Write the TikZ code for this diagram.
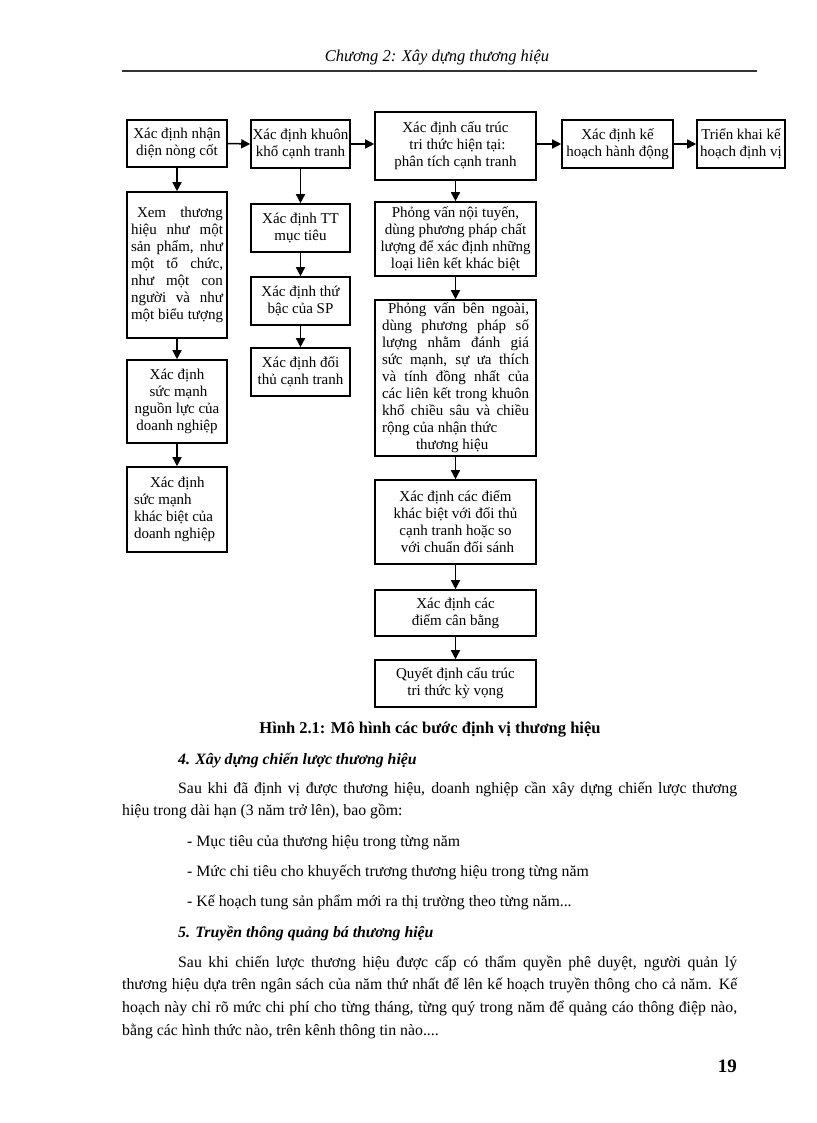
\documentclass[tikz,border=0pt]{standalone}
\usepackage{fontspec}
\setmainfont{Liberation Serif}
\usetikzlibrary{arrows.meta}
\newcommand{\boxfont}{\fontsize{15}{17}\selectfont}
\newcommand{\bodyfont}{\fontsize{15.8}{22}\selectfont}
\newcommand{\jl}[2]{\makebox[#1][s]{\spaceskip=\fontdimen2\font plus 20em\relax #2}}
\begin{document}
\begin{tikzpicture}[x=1pt,y=-1pt,
  bx/.style={draw, line width=1.6pt, inner sep=0pt, align=center, font=\boxfont},
  ar/.style={-{Triangle[length=9pt,width=9pt]}, line width=1.5pt},
  txt/.style={anchor=base west, inner sep=0pt, font=\bodyfont}]
\useasboundingbox (0,0) rectangle (816,1123);
\fill[white] (0,0) rectangle (816,1123);
% header
\node[inner sep=0pt, anchor=base, font=\fontsize{16.5}{20}\selectfont\itshape] (hdr) at (437,62) {Chương 2: Xây dựng thương hiệu};
\coordinate (r1) at (122,71);
\coordinate (r2) at (757,71);
\draw[line width=1.6pt, black!80] (r1) -- (r2);
% top row
\node[bx, minimum width=100pt, minimum height=47pt] (A) at (177,143.5) {Xác định nhận\\diện nòng cốt};
\node[bx, minimum width=99pt, minimum height=48pt] (B) at (300.5,144) {Xác định khuôn\\khổ cạnh tranh};
\node[bx, minimum width=161pt, minimum height=68pt] (I) at (455.5,146) {Xác định cấu trúc\\\hspace*{4pt}tri thức hiện tại:\\phân tích cạnh tranh};
\node[bx, minimum width=111pt, minimum height=48pt] (J) at (617.5,144) {Xác định kế\\hoạch hành động};
\node[bx, minimum width=88pt, minimum height=48pt] (K) at (741,144) {Triển khai kế\\hoạch định vị};
% left column
\node[bx, minimum width=100pt, minimum height=146pt] (C) at (177,265)
 {\parbox{92pt}{\boxfont\jl{92pt}{\hspace*{6pt}Xem thương}\\\jl{92pt}{hiệu như một}\\\jl{92pt}{sản phẩm, như}\\\jl{92pt}{một tổ chức,}\\\jl{92pt}{như một con}\\\jl{92pt}{người và như}\\\jl{92pt}{một biểu tượng}}};
\node[bx, minimum width=100pt, minimum height=83pt] (D) at (177,401.5) {Xác định\\\hspace*{3pt}sức mạnh\\nguồn lực của\\doanh nghiệp};
\node[bx, minimum width=100pt, minimum height=85pt] (E) at (177,509.5) {\parbox{86pt}{\boxfont\raggedright\hspace*{16pt}Xác định\\sức mạnh\\khác biệt của\\doanh nghiệp}};
% second column
\node[bx, minimum width=99pt, minimum height=48pt] (F) at (300.5,228) {Xác định TT\\mục tiêu};
\node[bx, minimum width=99pt, minimum height=48pt] (G) at (300.5,301) {Xác định thứ\\bậc của SP};
\node[bx, minimum width=99pt, minimum height=48pt] (H) at (300.5,372) {Xác định đối\\thủ cạnh tranh};
% third column
\node[bx, minimum width=161pt, minimum height=74pt] (L) at (455.5,239) {Phỏng vấn nội tuyến,\\dùng phương pháp chất\\lượng để xác định những\\loại liên kết khác biệt};
\node[bx, minimum width=161pt, minimum height=156pt] (M) at (455.5,378)
 {\parbox{147pt}{\boxfont\jl{147pt}{\hspace*{6pt}Phỏng vấn bên ngoài,}\\\jl{147pt}{dùng phương pháp số}\\\jl{147pt}{lượng nhằm đánh giá}\\\jl{147pt}{sức mạnh, sự ưa thích}\\\jl{147pt}{và tính đồng nhất của}\\\jl{147pt}{các liên kết trong khuôn}\\\jl{147pt}{khổ chiều sâu và chiều}\\rộng của nhận thức\\\hspace*{34pt}thương hiệu}};
\node[bx, minimum width=161pt, minimum height=84pt] (N) at (455.5,522) {Xác định các điểm\\khác biệt với đối thủ\\cạnh tranh hoặc so\\\hspace*{4pt}với chuẩn đối sánh};
\node[bx, minimum width=161pt, minimum height=46pt] (O) at (455.5,613) {Xác định các\\điểm cân bằng};
\node[bx, minimum width=161pt, minimum height=47pt] (P) at (455.5,683.5) {Quyết định cấu trúc\\tri thức kỳ vọng};
% arrows
\draw[ar] (A.east) -- (B.west);
\draw[ar] (B.east) -- (B.east -| I.west);
\draw[ar] (I.east |- J.west) -- (J.west);
\draw[ar] (J.east) -- (K.west);
\draw[ar] (A.south) -- (C.north);
\draw[ar] (C.south) -- (D.north);
\draw[ar] (D.south) -- (E.north);
\draw[ar] (B.south) -- (F.north);
\draw[ar] (F.south) -- (G.north);
\draw[ar] (G.south) -- (H.north);
\draw[ar] (I.south) -- (L.north);
\draw[ar] (L.south) -- (M.north);
\draw[ar] (M.south) -- (N.north);
\draw[ar] (N.south) -- (O.north);
\draw[ar] (O.south) -- (P.north);
% caption and text
\node[inner sep=0pt, anchor=base, font=\fontsize{16.5}{20}\selectfont\bfseries] (cap) at (430,733) {Hình 2.1: Mô hình các bước định vị thương hiệu};
\node[txt, font=\bodyfont\bfseries\itshape] (h4) at (178,764) {4. Xây dựng chiến lược thương hiệu};
\node[txt] (t1) at (178,793) {\jl{559pt}{Sau khi đã định vị được thương hiệu, doanh nghiệp cần xây dựng chiến lược thương}};
\node[txt] (t2) at (122,815) {hiệu trong dài hạn (3 năm trở lên), bao gồm:};
\node[txt] (t3) at (187,846) {- Mục tiêu của thương hiệu trong từng năm};
\node[txt] (t4) at (187,876) {- Mức chi tiêu cho khuyếch trương thương hiệu trong từng năm};
\node[txt] (t5) at (187,906) {- Kế hoạch tung sản phẩm mới ra thị trường theo từng năm...};
\node[txt, font=\bodyfont\bfseries\itshape] (h5) at (178,937) {5. Truyền thông quảng bá thương hiệu};
\node[txt] (t6) at (178,967) {\jl{559pt}{Sau khi chiến lược thương hiệu được cấp có thẩm quyền phê duyệt, người quản lý}};
\node[txt] (t7) at (122,989) {\jl{615pt}{thương hiệu dựa trên ngân sách của năm thứ nhất để lên kế hoạch truyền thông cho cả năm. Kế}};
\node[txt] (t8) at (122,1012) {\jl{615pt}{hoạch này chỉ rõ mức chi phí cho từng tháng, từng quý trong năm để quảng cáo thông điệp nào,}};
\node[txt] (t9) at (122,1035) {bằng các hình thức nào, trên kênh thông tin nào....};
\node[inner sep=0pt, anchor=base east, font=\fontsize{19}{22}\selectfont\bfseries] (pg) at (737,1072) {19};
\end{tikzpicture}
\end{document}
